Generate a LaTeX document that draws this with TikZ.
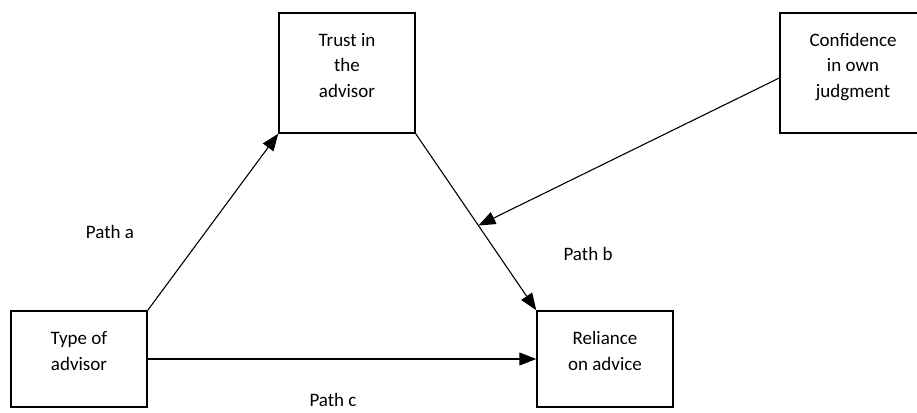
\documentclass[tikz,border=0pt]{standalone}
\usepackage{fontspec}
\setmainfont{Carlito}
\usetikzlibrary{arrows.meta}

\tikzset{
  varbox/.style = {draw, line width = 1.5pt, align = center, minimum width = 136pt,
    font = \fontsize{19}{25.5}\selectfont, execute at end node = {\rule[-16pt]{0pt}{0pt}}},
  pathlabel/.style = {font = \fontsize{19}{23}\selectfont},
  effect/.style = {line width = 1.1pt, -{Triangle[length = 17pt, width = 13pt]}}
}

\begin{document}
\begin{tikzpicture}[x = 1pt, y = -1pt]

\useasboundingbox (0, 0) rectangle (917, 412);

 \node[varbox, minimum height = 120pt] (trust) at (347, 73) {Trust in\\the\\advisor};
 \node[varbox, minimum height = 120pt, minimum width = 146pt] (confidence) at (853, 73) {Confidence\\in own\\judgment};
 \node[varbox, minimum height = 96pt] (type) at (79, 359) {Type of\\advisor};
 \node[varbox, minimum height = 96pt] (reliance) at (605, 359) {Reliance\\on advice};

 \draw[effect] (type.north east) -- (trust.south west);
 \draw[effect] (trust.south east) -- coordinate[pos = 0.52] (moderated) (reliance.north west);
 \draw[effect] (confidence.west |- 0, 78) -- (moderated);
 \draw[effect] (type.east) -- (reliance.west);

 \node[pathlabel] (patha) at (110, 232) {Path a};
 \node[pathlabel] (pathb) at (588, 254) {Path b};
 \node[pathlabel] (pathc) at (333, 400) {Path c};
\end{tikzpicture}
\end{document}
